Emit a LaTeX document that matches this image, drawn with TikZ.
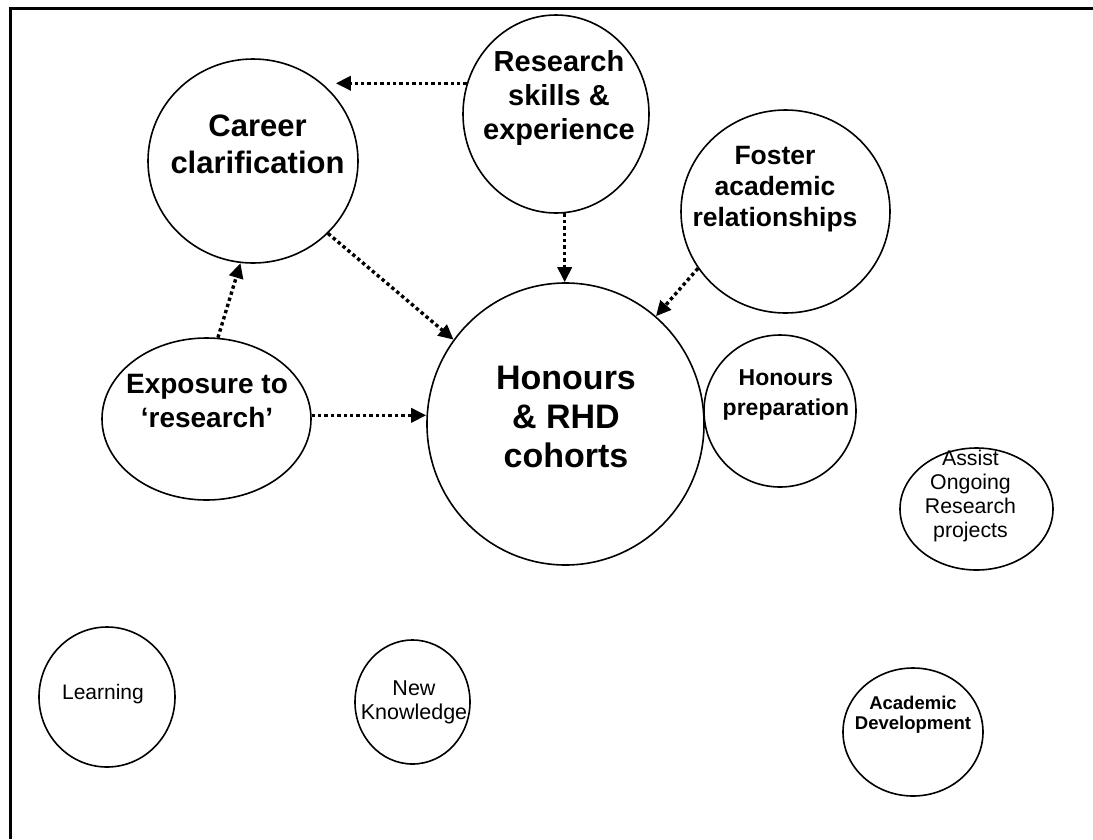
\documentclass[tikz,border=0pt]{standalone}
\usepackage{fontspec}
\setmainfont{Liberation Sans}
\usetikzlibrary{shapes.geometric,arrows.meta,calc}
\begin{document}
\begin{tikzpicture}[x=1pt,y=-1pt,
  bub/.style={draw, ellipse, line width=1.6pt, inner sep=0pt},
  lbl/.style={align=center, inner sep=0pt},
  arr/.style={line width=3.4pt, dash pattern=on 3.4pt off 3pt, -{Triangle[length=15pt,width=14pt]}},
  frame/.style={line width=3.5pt}
]
\useasboundingbox (0,0) rectangle (1093,839);
% frame (top and left edges)
\draw[frame] (1093,8.5) -- (10.5,8.5) -- (10.5,839);

% bubbles
\node[bub, minimum width=210pt, minimum height=204pt] (career) at (253,161) {};
\node[bub, minimum width=186pt, minimum height=198pt] (research) at (556,114) {};
\node[bub, minimum width=277pt, minimum height=282pt] (honours) at (565.5,424) {};
\node[bub, minimum width=209pt, minimum height=203pt] (foster) at (785.5,211.5) {};
\node[bub, minimum width=152pt, minimum height=152pt] (prep) at (780,411) {};
\node[bub, minimum width=209pt, minimum height=162pt] (exposure) at (206.5,419) {};
\node[bub, minimum width=153pt, minimum height=122pt] (assist) at (976.5,509) {};
\node[bub, minimum width=140pt, minimum height=128pt] (acad) at (913,732) {};
\node[bub, minimum width=136pt, minimum height=140pt] (learning) at (107,697) {};
\node[bub, minimum width=115pt, minimum height=124pt] (newk) at (412.5,702) {};

% labels
\node[lbl, font=\bfseries\fontsize{31}{37}\selectfont] (careerT) at (257.5,144) {Career\\clarification};
\node[lbl, font=\bfseries\fontsize{29}{34}\selectfont] (researchT) at (559,98) {Research\\skills \&\\experience};
\node[lbl, font=\bfseries\fontsize{34}{39}\selectfont] (honoursT) at (566,417) {Honours\\\& RHD\\cohorts};
\node[lbl, font=\bfseries\fontsize{26.5}{31}\selectfont] (fosterT) at (775,189.5) {Foster\\academic\\relationships};
\node[lbl, font=\bfseries\fontsize{23}{30}\selectfont] (prepT) at (786,395) {Honours\\preparation};
\node[lbl, font=\bfseries\fontsize{28}{34}\selectfont] (exposureT) at (207,401) {Exposure to\\‘research’};
\node[lbl, font=\fontsize{21.3}{24}\selectfont] (assistT) at (970.5,496) {Assist\\Ongoing\\Research\\projects};
\node[lbl, font=\bfseries\fontsize{18.5}{20.5}\selectfont] (acadT) at (913,714.5) {Academic\\Development};
\node[lbl, font=\fontsize{21}{24}\selectfont] (learningT) at (103,694) {Learning};
\node[lbl, font=\fontsize{21.5}{24}\selectfont] (newkT) at (414,702) {New\\Knowledge};

% connectors
\draw[arr] (research.161) -- ($(research.161 -| career.east)+(-23,0)$);
\draw[arr] (research.275) -- (research.275 |- honours.north);
\draw[arr] (foster.213) -- (honours.50);
\draw[arr] (career.316) -- (honours.143);
\draw[arr] (exposure.82) -- (career.263);
\draw[arr] (exposure.2) -- (exposure.2 -| honours.west);
\end{tikzpicture}
\end{document}
